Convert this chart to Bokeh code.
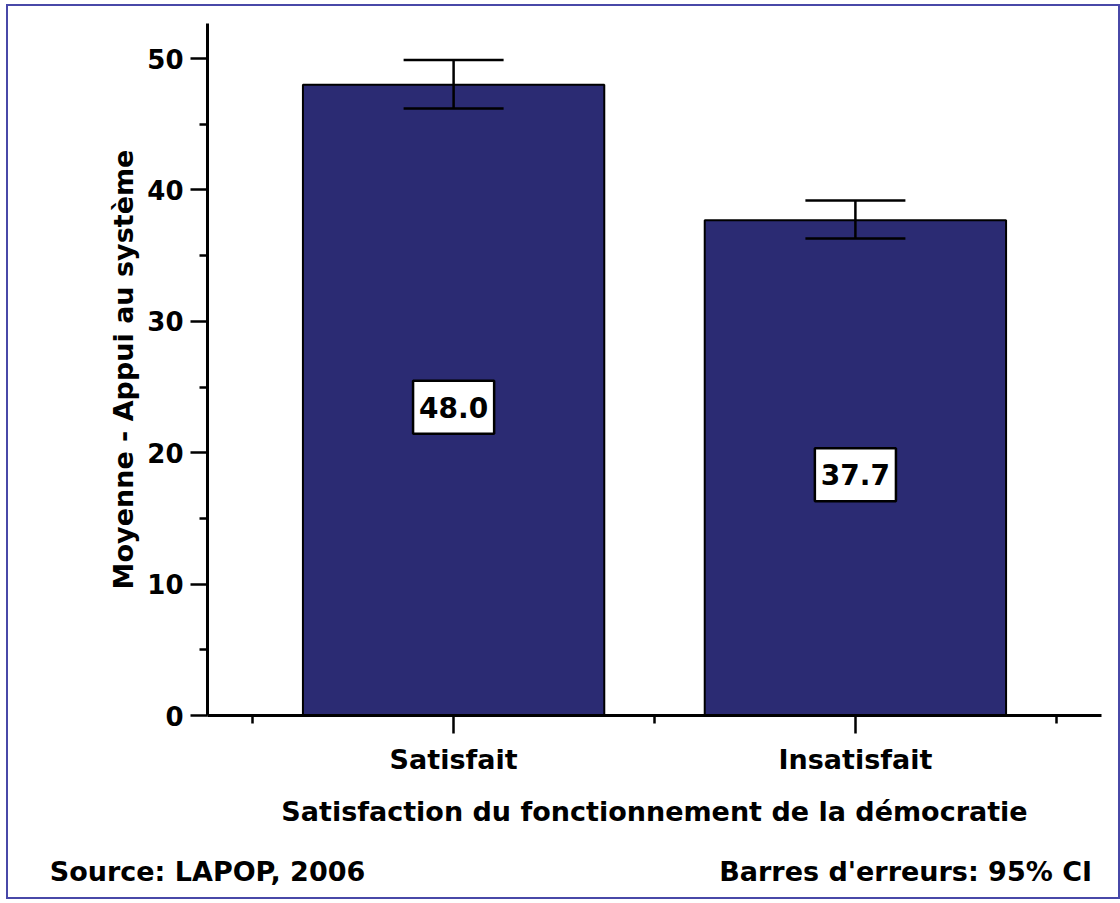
from bokeh.plotting import figure
from bokeh.models import (Range1d, FixedTicker, Label, Whisker, TeeHead,
                          ColumnDataSource, LinearAxis)
from bokeh.embed import file_html
from bokeh.resources import INLINE

categories = ["Satisfait", "Insatisfait"]
means = [48.0, 37.7]
ci_lower = [46.2, 36.3]
ci_upper = [49.9, 39.2]
value_labels = ["48.0", "37.7"]
y_ticks = [0, 10, 20, 30, 40, 50]
y_minor = [5, 15, 25, 35, 45]
source_note = "Source: LAPOP, 2006"
error_note = "Barres d'erreurs: 95% CI"

xs = [i + 1 for i in range(len(categories))]
x_minor = [0.5 + i for i in range(len(categories) + 1)]
X0, X1 = xs[0] - 0.6125, xs[-1] + 0.6125

FONT = "DejaVu Sans"
BAR = "#2b2b73"

p = figure(width=1114, height=895, output_backend="svg", toolbar_location=None,
           x_range=Range1d(X0, X1), y_range=Range1d(0, 52.67),
           min_border_left=199, min_border_right=21, min_border_top=17,
           min_border_bottom=186)
p.styles = {"margin-left": "6px", "margin-top": "4px",
            "border": "2px solid #4848a8"}
p.outline_line_color = None
p.grid.visible = False
p.background_fill_color = "white"
p.border_fill_color = "white"

src = ColumnDataSource(dict(x=xs, top=means, lo=ci_lower, hi=ci_upper))
p.vbar(x="x", top="top", width=0.75, source=src, fill_color=BAR,
       line_color="black", line_width=2)

w = Whisker(source=src, base="x", lower="lo", upper="hi", line_width=2.5,
            line_color="black", level="overlay",
            upper_head=TeeHead(size=100, line_width=2.5, line_color="black"),
            lower_head=TeeHead(size=100, line_width=2.5, line_color="black"))
p.add_layout(w)

for x, m, t in zip(xs, means, value_labels):
    p.add_layout(Label(x=x, y=m / 2, y_offset=-7, text=t, text_font=FONT,
                       text_font_style="bold", text_font_size="28px",
                       text_color="black",
                       text_align="center", text_baseline="middle",
                       background_fill_color="white", border_line_color="black",
                       border_line_width=2.5, padding=(6, 16)))

# axes
p.yaxis.ticker = FixedTicker(ticks=y_ticks, minor_ticks=y_minor)
p.xaxis.ticker = FixedTicker(ticks=xs, minor_ticks=x_minor)
p.xaxis.major_label_overrides = {x: c for x, c in zip(xs, categories)}
for ax in (p.xaxis[0], p.yaxis[0]):
    ax.axis_line_width = 3
    ax.axis_line_color = "black"
    ax.major_tick_line_width = 2.5
    ax.minor_tick_line_width = 2.5
    ax.major_tick_line_color = "black"
    ax.minor_tick_line_color = "black"
    ax.major_tick_in = 0
    ax.minor_tick_in = 0
    ax.major_label_text_font = FONT
    ax.major_label_text_font_style = "bold"
    ax.major_label_text_color = "black"
    ax.axis_label_text_font = FONT
    ax.axis_label_text_font_style = "bold"
    ax.axis_label_text_color = "black"
    ax.axis_label_text_font_size = "27px"

p.yaxis.major_tick_out = 17
p.yaxis.minor_tick_out = 8
p.yaxis.major_label_text_font_size = "26px"
p.yaxis.major_label_standoff = 7
p.yaxis.axis_label = "Moyenne - Appui au système"
p.yaxis.axis_label_standoff = 5

p.xaxis.major_tick_out = 18
p.xaxis.minor_tick_out = 8
p.xaxis.major_label_text_font_size = "27px"
p.xaxis.major_label_standoff = 10
p.xaxis.axis_label = "Satisfaction du fonctionnement de la démocratie"
p.xaxis.axis_label_standoff = 18

# footer notes as a bare extra axis below
note_pos = [X0, 2.125]
foot = LinearAxis(ticker=FixedTicker(ticks=note_pos, minor_ticks=[]),
                  major_label_overrides={note_pos[0]: source_note,
                                         note_pos[1]: error_note},
                  axis_line_color=None, major_tick_line_color=None,
                  minor_tick_line_color=None, major_tick_out=0, major_tick_in=0,
                  major_label_standoff=26, major_label_text_font=FONT,
                  major_label_text_font_style="bold",
                  major_label_text_font_size="27px",
                  major_label_text_color="black")
p.add_layout(foot, "below")

open("out.html", "w").write(file_html(p, INLINE))
